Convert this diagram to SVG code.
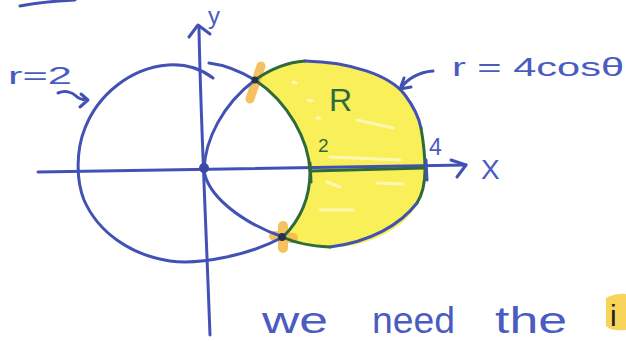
<svg xmlns="http://www.w3.org/2000/svg" width="626" height="341" viewBox="0 0 626 341">
<defs>
<style>
.pen{fill:none;stroke:#4252b4;stroke-width:3;stroke-linecap:round;stroke-linejoin:round}
.grn{fill:none;stroke:#2f6a3c;stroke-width:3;stroke-linecap:round;stroke-linejoin:round}
.hl{fill:none;stroke:#f3b747;stroke-linecap:round;opacity:0.85}
.streak{fill:none;stroke:#ffffff;stroke-width:3;stroke-linecap:round;opacity:0.55}
.lbl{font-family:"Liberation Sans","DejaVu Sans",sans-serif;fill:#4a5cc0}
.glbl{font-family:"Liberation Sans","DejaVu Sans",sans-serif;fill:#2f6a3c}
</style>
</defs>
<rect width="626" height="341" fill="#ffffff"/>

<g id="region-R">
<path d="M255,80 C272,68 290,62 310,61 C350,62 390,75 405,95 C418,112 424,135 425,170 C425,190 420,205 405,220 C385,238 355,248 330,247 C310,246 295,243 283,237 C298,222 310,200 310,172 C309,140 288,102 255,80 Z" fill="#f9ef58"/>
<path class="streak" d="M293,82 l3,1 M308,100 l4,1 M317,118 l3,0 M357,120 L393,128 M330,157 L400,160 M327,182 L340,187 M320,210 L353,210 M377,183 L403,184"/>
</g>

<g id="highlights">
<path class="hl" d="M261,66 L250,99" stroke-width="9"/>
<path class="hl" d="M283,226 L283,248 M274,236 L293,238" stroke-width="10"/>
</g>

<g id="connectors">
<g id="x-axis">
<path class="pen" d="M38,172 C150,170 300,169 466,165"/>
<path class="pen" d="M451,160 L466,165 L457,177"/>
</g>
<g id="y-axis">
<path class="pen" d="M199,27 C200,100 205,200 210,335"/>
<path class="pen" d="M189,37 L198,25 L210,34"/>
</g>
</g>

<g id="circle-r2">
<path class="pen" d="M213,78 C200,68 185,64 168,65 C130,68 98,95 85,128 C76,150 76,180 84,200 C98,232 130,255 170,261 C200,265 250,255 283,237"/>
<path class="grn" d="M283,237 C298,222 310,200 310,172 C309,140 288,102 255,80"/>
<path class="pen" d="M255,80 C240,71 225,65 209,63"/>
</g>

<g id="circle-4cos">
<path class="pen" d="M204,170 C205,140 222,105 255,80"/>
<path class="grn" d="M255,80 C272,68 290,62 305,61"/>
<path class="pen" d="M305,61 C350,62 390,75 405,95 C414,107 419,118 421,128"/>
<path class="grn" d="M421,128 C424,145 425,158 425,170 C425,185 422,195 417,203"/>
<path class="pen" d="M417,203 C400,225 370,242 330,247"/>
<path class="grn" d="M330,247 C310,246 295,243 283,237"/>
<path class="pen" d="M204,170 C207,195 240,222 283,237"/>
</g>

<g id="segment-x">
<path class="grn" d="M310,171 C350,170 390,169 425,168"/>
<path class="grn" d="M310,163 L311,182"/>
<path class="pen" d="M426,160 L427,180" stroke-width="4"/>
</g>

<g id="points">
<circle cx="204" cy="168" r="5" fill="#3a48a8"/>
<circle cx="255" cy="80" r="3.5" fill="#28344f"/>
<circle cx="282" cy="237" r="4" fill="#28344f"/>
</g>

<g id="labels">
<text class="lbl" x="208" y="24" font-size="24">y</text>
<text class="lbl" x="8" y="84" font-size="24" textLength="64" lengthAdjust="spacingAndGlyphs">r=2</text>
<path class="pen" d="M58,93 C65,90 72,92 76,96 C80,100 84,100 88,100 M81,94 L88,100 L80,107" stroke-width="2.5"/>
<text class="lbl" x="452" y="76" font-size="26" textLength="172" lengthAdjust="spacingAndGlyphs">r = 4cosθ</text>
<path class="pen" d="M433,71 C420,72 408,78 400,89 M400,89 L404,78 M400,89 L411,87" stroke-width="2.5"/>
<text class="glbl" x="329" y="111" font-size="32">R</text>
<text class="glbl" x="318" y="152" font-size="19">2</text>
<text class="lbl" x="429" y="155" font-size="23">4</text>
<text class="lbl" x="481" y="179" font-size="28">X</text>
</g>

<g id="note">
<path class="pen" d="M20,6 C35,3 55,1 75,0"/>
<text class="lbl" y="333" font-size="36"><tspan x="262" textLength="66" lengthAdjust="spacingAndGlyphs">we</tspan><tspan x="372" textLength="83" lengthAdjust="spacingAndGlyphs">need</tspan><tspan x="495" textLength="72" lengthAdjust="spacingAndGlyphs">the</tspan></text>
<path d="M606,298 C612,294 622,293 626,294 L626,330 C618,331 610,330 606,326 Z" fill="#f8d45a"/>
<text x="610" y="326" font-size="30" font-family="Liberation Sans, sans-serif" fill="#222222">i</text>
</g>
</svg>
